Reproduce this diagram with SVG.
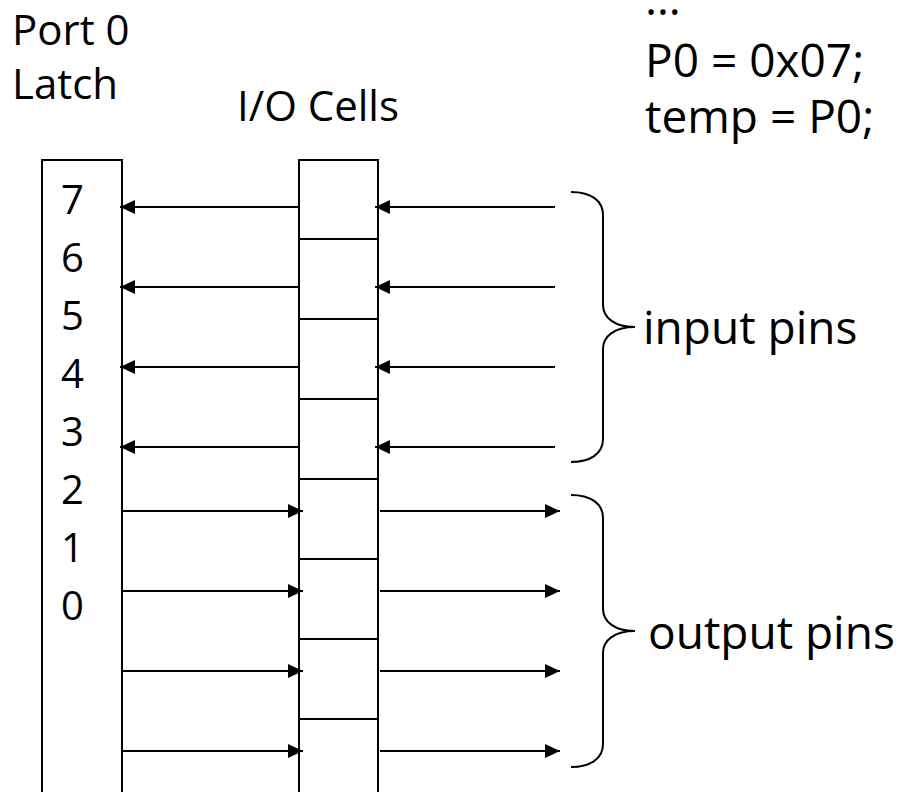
<svg xmlns="http://www.w3.org/2000/svg" width="903" height="792" viewBox="0 0 903 792">
<style>
text{font-family:"Open Sans","Liberation Sans",sans-serif;fill:#000}
.lbl{font-size:42px}
.big{font-size:46px}
.dig{font-size:40px}
.box{fill:none;stroke:#000;stroke-width:2}
.ln{stroke:#000;stroke-width:2;fill:none}
.arr{stroke:#000;stroke-width:2;fill:none;marker-end:url(#ah)}
.brace{stroke:#000;stroke-width:2;fill:none}
</style>
<defs>
<marker id="ah" markerUnits="userSpaceOnUse" markerWidth="16" markerHeight="14" refX="15" refY="7" orient="auto">
<path d="M0,0 L15,7 L0,14 z" fill="#000"/>
</marker>
</defs>
<rect width="903" height="792" fill="#fff"/>
<g id="labels">
<text class="lbl" x="12" y="45">Port 0</text>
<text class="lbl" x="12" y="99">Latch</text>
<text class="lbl" x="237" y="121">I/O Cells</text>
</g>
<g id="code">
<text class="big" x="645" y="15">…</text>
<text class="big" x="645" y="77">P0 = 0x07;</text>
<text class="big" x="645" y="133">temp = P0;</text>
</g>
<g id="latch">
<path class="box" d="M42,800 V160 H122 V800"/>
<text class="dig" x="61" y="214">7</text>
<text class="dig" x="61" y="272">6</text>
<text class="dig" x="61" y="330">5</text>
<text class="dig" x="61" y="388">4</text>
<text class="dig" x="61" y="446">3</text>
<text class="dig" x="61" y="504">2</text>
<text class="dig" x="61" y="562">1</text>
<text class="dig" x="61" y="620">0</text>
</g>
<g id="io-cells">
<path class="box" d="M299,800 V160 H378 V800"/>
<path class="ln" d="M299,239 H378 M299,319 H378 M299,399 H378 M299,479 H378 M299,559 H378 M299,639 H378 M299,719 H378"/>
</g>
<g id="connectors">
<line class="arr" x1="299" y1="207" x2="120" y2="207"/>
<line class="arr" x1="299" y1="287" x2="120" y2="287"/>
<line class="arr" x1="299" y1="367" x2="120" y2="367"/>
<line class="arr" x1="299" y1="447" x2="120" y2="447"/>
<line class="arr" x1="555" y1="207" x2="375" y2="207"/>
<line class="arr" x1="555" y1="287" x2="375" y2="287"/>
<line class="arr" x1="555" y1="367" x2="375" y2="367"/>
<line class="arr" x1="555" y1="447" x2="375" y2="447"/>
<line class="arr" x1="123" y1="511" x2="303" y2="511"/>
<line class="arr" x1="123" y1="591" x2="303" y2="591"/>
<line class="arr" x1="123" y1="671" x2="303" y2="671"/>
<line class="arr" x1="123" y1="751" x2="303" y2="751"/>
<line class="arr" x1="380" y1="511" x2="560" y2="511"/>
<line class="arr" x1="380" y1="591" x2="560" y2="591"/>
<line class="arr" x1="380" y1="671" x2="560" y2="671"/>
<line class="arr" x1="380" y1="751" x2="560" y2="751"/>
</g>
<g id="input-pins">
<path class="brace" d="M571,192 C590,192 603,200 603,215 L603,305 C603,318 615,327 635,327 C615,327 603,336 603,349 L603,439 C603,454 590,462 571,462"/>
<text class="big" x="643" y="344">input pins</text>
</g>
<g id="output-pins">
<path class="brace" d="M571,495 C590,495 603,503 603,518 L603,609 C603,622 615,631 635,631 C615,631 603,640 603,653 L603,744 C603,759 590,767 571,767"/>
<text class="big" x="648" y="649">output pins</text>
</g>
</svg>
